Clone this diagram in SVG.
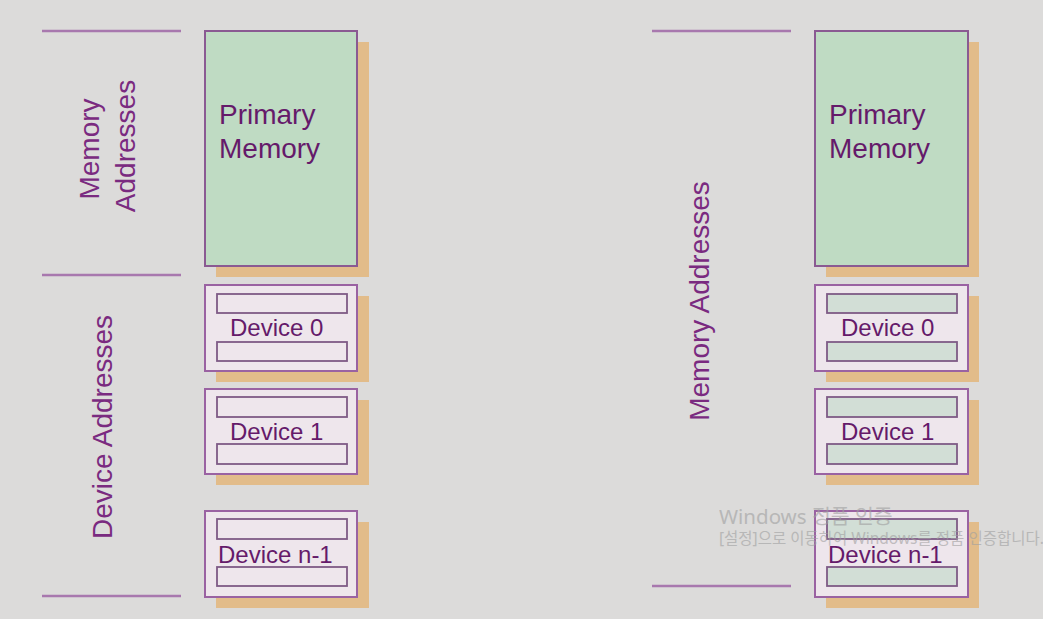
<svg xmlns="http://www.w3.org/2000/svg" width="1043" height="619" viewBox="0 0 1043 619">
<style>
.bg{fill:#dcdbda}
.sep{stroke:#a878ae;stroke-width:2.5;fill:none}
.shadow{fill:#e2bc8a}
.mem{fill:#bfdbc3;stroke:#8a5a92;stroke-width:2}
.dev{fill:#eee6ec;stroke:#9a62a2;stroke-width:2}
.slotL{fill:#eee6ec;stroke:#7e5a86;stroke-width:1.8}
.slotR{fill:#d2ded6;stroke:#7e5a86;stroke-width:1.8}
.t{font-family:"Liberation Sans",Arial,sans-serif;fill:#651a6a}
.big{font-size:28px}
.mid{font-size:24px}
.lab{font-size:28px;fill:#7a2a80;text-anchor:middle}
.wm{font-family:"Noto Sans","Noto Sans CJK KR",sans-serif;fill:#a0a0a0;opacity:0.6}
</style>
<rect class="bg" x="0" y="0" width="1043" height="619"/>
<g id="separators">
<line class="sep" x1="42" y1="31" x2="181" y2="31"/>
<line class="sep" x1="42" y1="275" x2="181" y2="275"/>
<line class="sep" x1="42" y1="596" x2="181" y2="596"/>
<line class="sep" x1="652" y1="31" x2="791" y2="31"/>
<line class="sep" x1="652" y1="586" x2="791" y2="586"/>
</g>
<g id="left-labels">
<text class="t lab" transform="translate(99,149) rotate(-90)">Memory</text>
<text class="t lab" transform="translate(135,146) rotate(-90)">Addresses</text>
<text class="t lab" transform="translate(112,427) rotate(-90)">Device Addresses</text>
</g>
<g id="left-primary-memory">
<rect class="shadow" x="216" y="42" width="153" height="235"/>
<rect class="mem" x="205" y="31" width="152" height="235"/>
<text class="t big" x="219" y="124">Primary</text>
<text class="t big" x="219" y="158">Memory</text>
</g>
<g id="left-device-0">
<rect class="shadow" x="216" y="296" width="153" height="86"/>
<rect class="dev" x="205" y="285" width="152" height="86"/>
<rect class="slotL" x="217" y="294" width="130" height="19"/>
<rect class="slotL" x="217" y="342" width="130" height="19"/>
<text class="t mid" x="230" y="336">Device 0</text>
</g>
<g id="left-device-1">
<rect class="shadow" x="216" y="400" width="153" height="85"/>
<rect class="dev" x="205" y="389" width="152" height="85"/>
<rect class="slotL" x="217" y="397" width="130" height="20"/>
<rect class="slotL" x="217" y="444" width="130" height="20"/>
<text class="t mid" x="230" y="440">Device 1</text>
</g>
<g id="left-device-n-1">
<rect class="shadow" x="216" y="522" width="153" height="86"/>
<rect class="dev" x="205" y="511" width="152" height="86"/>
<rect class="slotL" x="217" y="519" width="130" height="20"/>
<rect class="slotL" x="217" y="567" width="130" height="19"/>
<text class="t mid" x="218" y="563">Device n-1</text>
</g>
<g id="right-labels">
<text class="t lab" transform="translate(709,301) rotate(-90)">Memory Addresses</text>
</g>
<g id="right-primary-memory">
<rect class="shadow" x="826" y="42" width="153" height="235"/>
<rect class="mem" x="815" y="31" width="153" height="235"/>
<text class="t big" x="829" y="124">Primary</text>
<text class="t big" x="829" y="158">Memory</text>
</g>
<g id="right-device-0">
<rect class="shadow" x="826" y="296" width="153" height="86"/>
<rect class="dev" x="815" y="285" width="153" height="86"/>
<rect class="slotR" x="827" y="294" width="130" height="19"/>
<rect class="slotR" x="827" y="342" width="130" height="19"/>
<text class="t mid" x="841" y="336">Device 0</text>
</g>
<g id="right-device-1">
<rect class="shadow" x="826" y="400" width="153" height="85"/>
<rect class="dev" x="815" y="389" width="153" height="85"/>
<rect class="slotR" x="827" y="397" width="130" height="20"/>
<rect class="slotR" x="827" y="444" width="130" height="20"/>
<text class="t mid" x="841" y="440">Device 1</text>
</g>
<g id="right-device-n-1">
<rect class="shadow" x="826" y="522" width="153" height="86"/>
<rect class="dev" x="815" y="511" width="153" height="86"/>
<rect class="slotR" x="827" y="519" width="130" height="20"/>
<rect class="slotR" x="827" y="567" width="130" height="19"/>
<text class="t mid" x="828" y="563">Device n-1</text>
</g>
<g id="watermark">
<text class="wm" x="719" y="524" font-size="20.5">Windows 정품 인증</text>
<text class="wm" x="719" y="544" font-size="15.5">[설정]으로 이동하여 Windows를 정품 인증합니다.</text>
</g>
</svg>
